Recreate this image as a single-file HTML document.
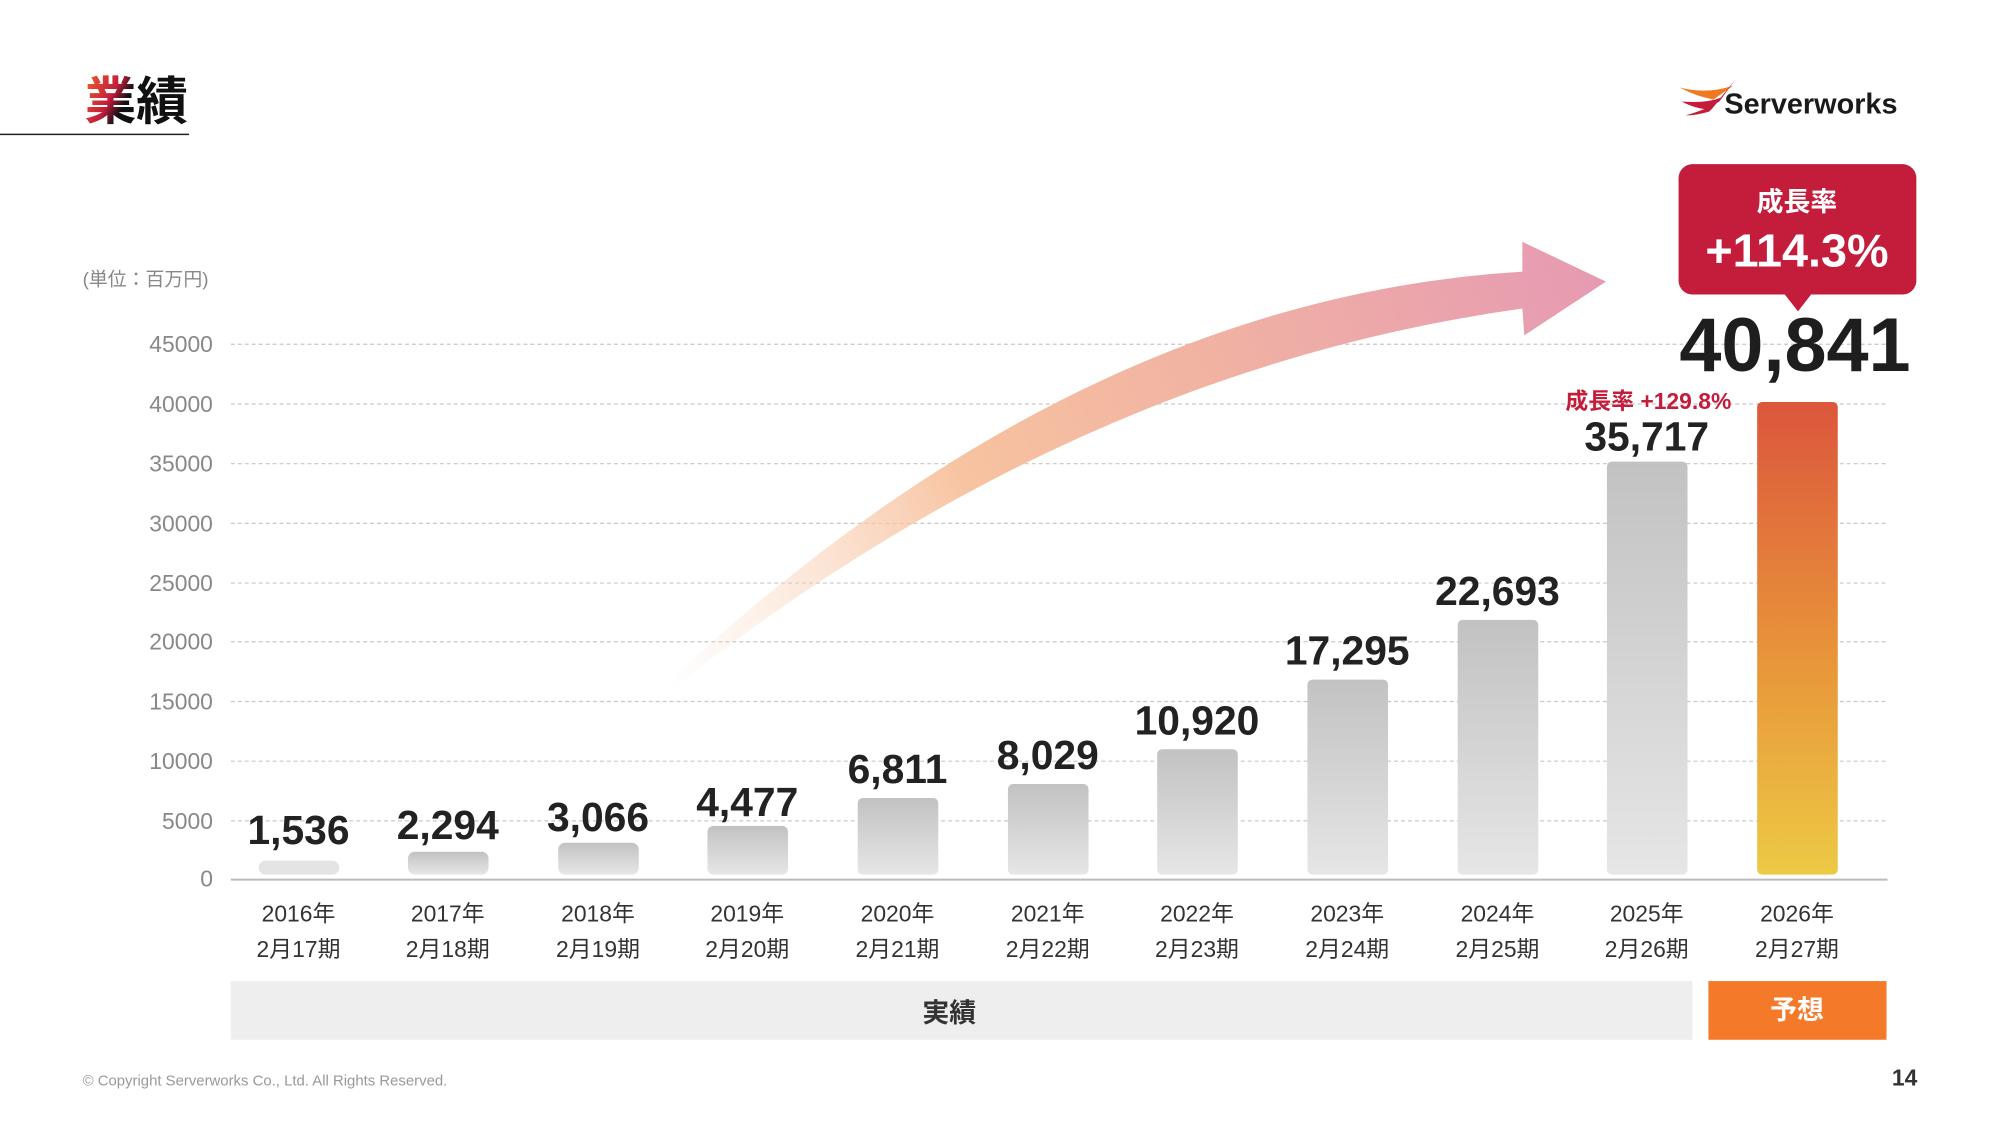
<!DOCTYPE html>
<html><head><meta charset="utf-8"><style>
html,body{margin:0;padding:0;background:#fff;}
body{width:2000px;height:1125px;position:relative;overflow:hidden;font-family:"Liberation Sans","Noto Sans CJK JP",sans-serif;}
</style></head><body>
<svg width="2000" height="1125" viewBox="0 0 2000 1125" xmlns="http://www.w3.org/2000/svg" style="position:absolute;left:0;top:0">
<defs>
<linearGradient id="tt" x1="0" y1="0" x2="1" y2="0.3"><stop offset="0" stop-color="#f0642a"/><stop offset="0.35" stop-color="#c41c3b"/><stop offset="0.5" stop-color="#111"/></linearGradient>
<linearGradient id="gb" x1="0" y1="0" x2="0" y2="1"><stop offset="0" stop-color="#c2c2c2"/><stop offset="1" stop-color="#e6e6e6"/></linearGradient>
<linearGradient id="ob" x1="0" y1="0" x2="0" y2="1"><stop offset="0" stop-color="#dc563c"/><stop offset="0.55" stop-color="#e8963a"/><stop offset="1" stop-color="#edc945"/></linearGradient>
<linearGradient id="ar" gradientUnits="userSpaceOnUse" x1="670" y1="690" x2="1614" y2="283"><stop offset="0" stop-color="#fbd8c4" stop-opacity="0"/><stop offset="0.35" stop-color="#f7c3a0"/><stop offset="0.6" stop-color="#f1b3a2"/><stop offset="1" stop-color="#e69ab2"/></linearGradient>
</defs>
<g transform="scale(0.995)">
<text x="85" y="120" font-size="52" font-weight="bold" fill="url(#tt)">業績</text>
<line x1="0" y1="135" x2="190" y2="135" stroke="#222" stroke-width="1.5"/>
<path d="M1688 88 Q1705 97 1722 100 L1742 86 Q1715 95 1688 88Z" fill="#ef7a22"/>
<path d="M1690 102 Q1715 104 1730 98 L1720 110 Q1705 110 1690 102Z" fill="#c41c3b"/>
<path d="M1694 116 Q1715 110 1728 102 L1744 80 L1718 112 Q1705 116 1694 116Z" fill="#c41c3b"/>
<text x="1733" y="114" font-size="29" font-weight="bold" fill="#1a1a1a">Serverworks</text>
<text x="83" y="287" font-size="19" fill="#888">(単位：百万円)</text>
<g font-size="23" fill="#888" text-anchor="end">
<text x="214" y="354">45000</text><text x="214" y="414">40000</text><text x="214" y="474">35000</text><text x="214" y="534">30000</text><text x="214" y="594">25000</text><text x="214" y="653">20000</text><text x="214" y="713">15000</text><text x="214" y="773">10000</text><text x="214" y="833">5000</text><text x="214" y="891">0</text>
</g>
<g stroke="#c8c8c8" stroke-width="1.2" stroke-dasharray="4 3">
<line x1="232" y1="346" x2="1897" y2="346"/><line x1="232" y1="406" x2="1897" y2="406"/><line x1="232" y1="466" x2="1897" y2="466"/><line x1="232" y1="526" x2="1897" y2="526"/><line x1="232" y1="586" x2="1897" y2="586"/><line x1="232" y1="645" x2="1897" y2="645"/><line x1="232" y1="705" x2="1897" y2="705"/><line x1="232" y1="765" x2="1897" y2="765"/><line x1="232" y1="825" x2="1897" y2="825"/>
</g>
<line x1="232" y1="884" x2="1897" y2="884" stroke="#bbb" stroke-width="2"/>
<path d="M670 687 Q1082 300 1530 273 L1530 243 L1614 283 L1532 337 L1530 310 Q1079 373 676 692Z" fill="url(#ar)"/>
<g>
<rect x="260" y="865" width="81" height="14" rx="7" fill="#e4e4e4"/>
<rect x="410" y="856" width="81" height="23" rx="7" fill="url(#gb)"/>
<rect x="561" y="847" width="81" height="32" rx="7" fill="url(#gb)"/>
<rect x="711" y="830" width="81" height="49" rx="6" fill="url(#gb)"/>
<rect x="862" y="802" width="81" height="77" rx="5" fill="url(#gb)"/>
<rect x="1013" y="788" width="81" height="91" rx="5" fill="url(#gb)"/>
<rect x="1163" y="753" width="81" height="126" rx="5" fill="url(#gb)"/>
<rect x="1314" y="683" width="81" height="196" rx="5" fill="url(#gb)"/>
<rect x="1465" y="623" width="81" height="256" rx="5" fill="url(#gb)"/>
<rect x="1615" y="464" width="81" height="415" rx="5" fill="url(#gb)"/>
<rect x="1766" y="404" width="81" height="475" rx="5" fill="url(#ob)"/>
</g>
<g font-size="41" font-weight="bold" fill="#222" text-anchor="middle">
<text x="300" y="848">1,536</text><text x="450" y="843">2,294</text><text x="601" y="835">3,066</text><text x="751" y="820">4,477</text><text x="902" y="787">6,811</text><text x="1053" y="773">8,029</text><text x="1203" y="738">10,920</text><text x="1354" y="668">17,295</text><text x="1505" y="608">22,693</text><text x="1655" y="453">35,717</text>
</g>
<text x="1740" y="411" font-size="23" font-weight="bold" fill="#c41c3b" text-anchor="end">成長率 +129.8%</text>
<text x="1804" y="373" font-size="76" font-weight="bold" fill="#1e1e1e" text-anchor="middle">40,841</text>
<rect x="1687" y="165" width="239" height="131" rx="14" fill="#c41c3b"/>
<path d="M1793 295 L1807 313 L1821 295Z" fill="#c41c3b"/>
<text x="1806" y="212" font-size="27" font-weight="bold" fill="#fff" text-anchor="middle">成長率</text>
<text x="1806" y="268" font-size="47" font-weight="bold" fill="#fff" text-anchor="middle">+114.3%</text>
<g font-size="23" fill="#333" text-anchor="middle">
<text x="300" y="926">2016年</text><text x="300" y="962">2月17期</text>
<text x="450" y="926">2017年</text><text x="450" y="962">2月18期</text>
<text x="601" y="926">2018年</text><text x="601" y="962">2月19期</text>
<text x="751" y="926">2019年</text><text x="751" y="962">2月20期</text>
<text x="902" y="926">2020年</text><text x="902" y="962">2月21期</text>
<text x="1053" y="926">2021年</text><text x="1053" y="962">2月22期</text>
<text x="1203" y="926">2022年</text><text x="1203" y="962">2月23期</text>
<text x="1354" y="926">2023年</text><text x="1354" y="962">2月24期</text>
<text x="1505" y="926">2024年</text><text x="1505" y="962">2月25期</text>
<text x="1655" y="926">2025年</text><text x="1655" y="962">2月26期</text>
<text x="1806" y="926">2026年</text><text x="1806" y="962">2月27期</text>
</g>
<rect x="232" y="986" width="1469" height="59" fill="#eeeeee"/>
<text x="954" y="1027" font-size="27" font-weight="bold" fill="#333" text-anchor="middle">実績</text>
<rect x="1717" y="986" width="179" height="59" fill="#f47a2a"/>
<text x="1806" y="1024" font-size="27" font-weight="bold" fill="#fff" text-anchor="middle">予想</text>
<text x="83" y="1091" font-size="15" fill="#999">© Copyright Serverworks Co., Ltd. All Rights Reserved.</text>
<text x="1927" y="1091" font-size="23" font-weight="bold" fill="#333" text-anchor="end">14</text>
</g>
</svg>
</body></html>
